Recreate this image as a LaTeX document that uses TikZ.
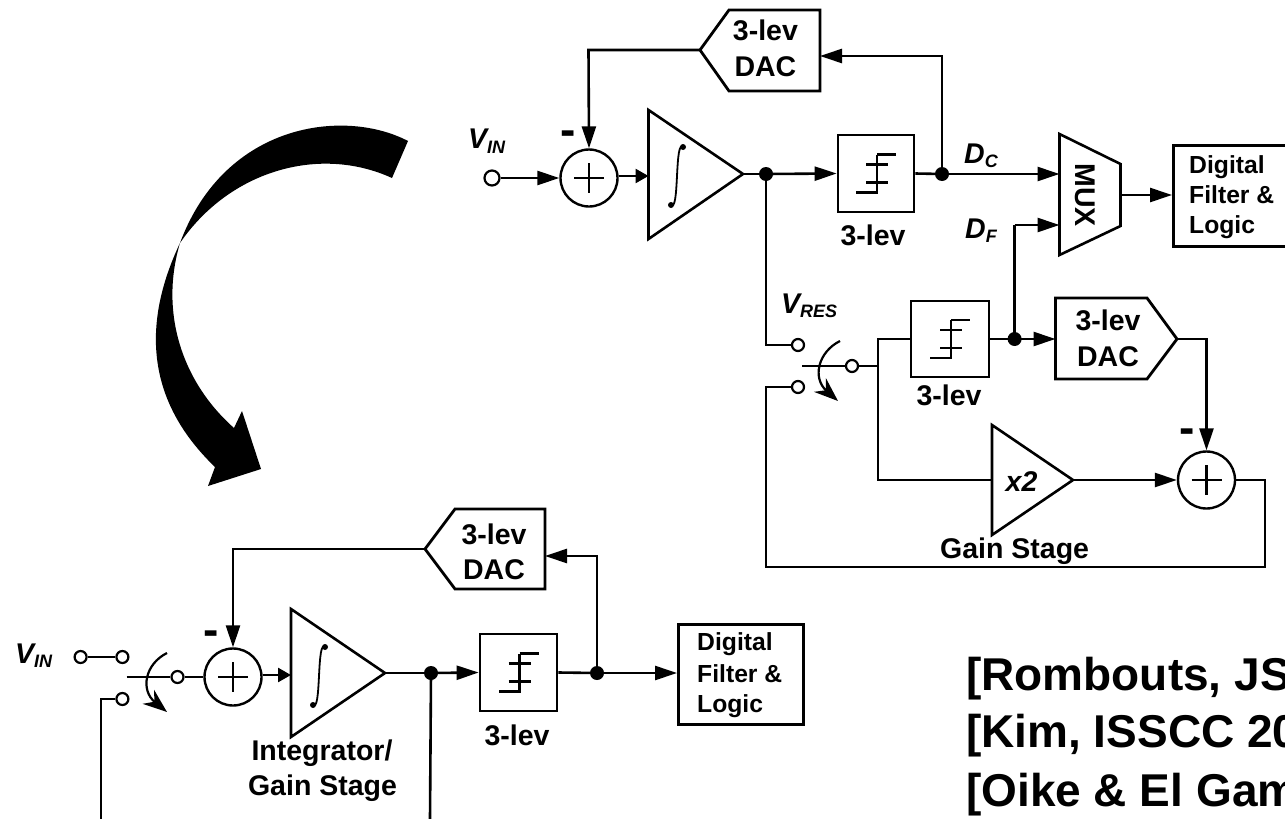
\documentclass[tikz,border=0pt]{standalone}
\usepackage{fontspec}
\setmainfont{Liberation Sans}
\usetikzlibrary{arrows.meta,calc}
\tikzset{
  wire/.style={line width=2.6pt,line join=miter},
  arr/.style={wire,-{Triangle[length=22pt,width=14pt]}},
  sarr/.style={wire,-{Triangle[length=13pt,width=14pt]}},
  block/.style={draw,line width=2.8pt},
  sumnode/.style={circle,draw,line width=2.4pt,minimum size=57pt,inner sep=0pt},
  opencirc/.style={circle,draw,line width=2.2pt,fill=white,minimum size=12pt,inner sep=0pt},
  bigopen/.style={opencirc,minimum size=15pt},
  junction/.style={circle,fill=black,minimum size=14pt,inner sep=0pt},
  lab/.style={font=\fontsize{28.5}{31}\selectfont\bfseries,inner sep=0pt,anchor=base},
  small/.style={font=\fontsize{24.7}{31}\selectfont\bfseries,inner sep=0pt,anchor=base west},
  ital/.style={font=\fontsize{28.5}{31}\selectfont\bfseries\itshape,inner sep=0pt,anchor=base west},
  cite/.style={font=\fontsize{46}{50}\selectfont\bfseries,inner sep=0pt,anchor=base west},
  minusmark/.style={font=\fontsize{46}{50}\selectfont\bfseries,inner sep=0pt},
  swarr/.style={line width=2.2pt,-{Stealth[length=24pt,width=18pt]}},
  sym/.style={line width=2.2pt}
}
\newcommand{\Plus}[1]{\draw[sym] (#1.center) ++(-15,0) -- ++(30,0) (#1.center) ++(0,-15) -- ++(0,30);}
\newcommand{\Quant}[1]{\draw[sym] (#1.center) ++(1,-19) -- ++(0,38) -- ++(-21,0)
  (#1.center) ++(1,-19) -- ++(19,0)
  (#1.center) ++(-10,-9) -- ++(22,0) (#1.center) ++(-10,9) -- ++(22,0);}
\newcommand{\Integ}[1]{\begin{scope}[shift={(#1)}]
  \draw[line width=1.8pt] (6,-29) .. controls (2,-32) and (1,-20) .. (0,0)
    .. controls (-1,20) and (-2,32) .. (-6,29);
  \fill (6,-29) circle (3pt) (-6,29) circle (3pt);
  \end{scope}}
\newcommand{\Sub}[1]{{\fontsize{18}{18}\selectfont\raisebox{-4.5pt}{#1}}}
\begin{document}
\begin{tikzpicture}[x=1pt,y=-1pt]
\useasboundingbox (0,0) rectangle (1285,819);
\clip (0,0) rectangle (1285,819);

% big curved arrow
\fill (408,141) .. controls (345,108) and (225,122) .. (180,243)
  .. controls (146,315) and (140,395) .. (215,467)
  -- (208,486) -- (261,469) -- (242,411) -- (234,428)
  .. controls (180,380) and (160,310) .. (180,243)
  .. controls (230,170) and (320,145) .. (392,178) -- cycle;

% ---------- upper diagram ----------
\node[bigopen] (vin) at (492,178) {};
\node[sumnode] (s1) at (589,178) {};
\Plus{s1}
\coordinate (intL) at (648.5,176);
\coordinate (intO) at (743,174);
\draw[wire] (648.5,110) -- (intO) -- (648.5,239) -- cycle;
\Integ{677,176}
\node[block,minimum width=76pt,minimum height=77pt,inner sep=0pt] (q1) at (876,173.5) {};
\Quant{q1}
\node[junction] (j1) at (766,174) {};
\node[junction] (j2) at (942,174) {};
\coordinate (dac1tip) at (700,50);
\coordinate (dac1in) at (820,56);
\draw[block] (dac1tip) -- (729,10) -- (820,10) -- (820,91) -- (729,91) -- cycle;
\coordinate (c1) at (588.5,50);
\coordinate (c2) at (942,56);
\coordinate (muxa) at (1059.5,174);
\coordinate (muxb) at (1059.5,225);
\coordinate (muxo) at (1120.5,195);
\draw[wire] (1059.5,134) -- (1120.5,164) -- (1120.5,226) -- (1059.5,255) -- cycle;
\node[block,minimum width=140pt,minimum height=101pt,inner sep=0pt,anchor=north west] (df1) at (1172,144) {};

\draw[arr] (vin.east) -- (s1.west);
\draw[sarr] (s1.east |- intL) -- (intL);
\draw[wire] (intO) -- (j1.center);
\draw[arr] (j1.center) -- (q1.west);
\draw[wire] (q1.east) -- (j2.center);
\draw[arr] (j2.center) -- (muxa);
\draw[arr] (j2.center) -- (c2) -- (dac1in);
\draw[arr] (dac1tip) -- (c1) -- (s1.north);
\draw[arr] (muxo) -- (df1.west |- muxo);

% residue loop
\node[opencirc] (sw1) at (798,345) {};
\node[opencirc] (sw2) at (798,387) {};
\node[opencirc] (sw3) at (852,366) {};
\coordinate (pole) at (802,366);
\coordinate (n1) at (878,366);
\node[block,minimum width=78pt,minimum height=76pt,inner sep=0pt] (q2) at (950,339) {};
\Quant{q2}
\node[junction] (j3) at (1014.6,339) {};
\coordinate (dac2in) at (1055.5,339);
\coordinate (dac2o) at (1177,339);
\draw[block] (dac2in |- 0,298) -- (1147,298) -- (dac2o) -- (1147,379) -- (dac2in |- 0,379) -- cycle;
\coordinate (g1) at (992,480);
\coordinate (g2) at (1073,480);
\draw[wire] (992,425) -- (g2) -- (992,535) -- cycle;
\node[sumnode] (s2) at (1206.5,480) {};
\Plus{s2}
\draw[wire] (j1.center) -- (j1.center |- sw1) -- (sw1.west);
\draw[wire] (sw2.west) -- (766,387) -- (766,567) -- (1265,567) -- (1265,480) -- (s2.east);
\draw[wire] (pole) -- (sw3.west);
\draw[wire] (sw3.east) -- (n1);
\draw[wire] (n1) -- (878,339) -- (q2.west);
\draw[wire] (n1) -- (878,480) -- (g1);
\draw[wire] (q2.east) -- (j3.center);
\draw[arr] (j3.center) -- (dac2in);
\draw[wire] (j3.center) -- (j3.center |- muxb);
\draw[arr] (j3.center |- muxb) -- (muxb);
\draw[arr] (dac2o) -- (1206.5,339) -- (s2.north);
\draw[arr] (g2) -- (s2.west);
\draw[swarr] (840,341) .. controls (818,352) and (812,378) .. (838,401);

% labels, upper
\node[ital] (lvin) at (468,148.5) {V\Sub{IN}};
\node[ital] (ldc) at (964,163) {D\Sub{C}};
\node[ital] (ldf) at (965,238) {D\Sub{F}};
\node[ital] (lvres) at (781,313) {V\Sub{RES}};
\node[lab] (t1) at (765.4,40.7) {3-lev};
\node[lab] (t2) at (765.4,76.7) {DAC};
\node[lab] (t3) at (873,245.7) {3-lev};
\node[lab,rotate=-90,anchor=center] (tmux) at (1085,195) {MUX};
\node[small] (t4) at (1189,173) {Digital};
\node[small] (t5) at (1189,203) {Filter \&};
\node[small] (t6) at (1189,233) {Logic};
\node[lab] (t7) at (949,405) {3-lev};
\node[lab] (t8) at (1108,330) {3-lev};
\node[lab] (t9) at (1108,366) {DAC};
\node[lab,font=\fontsize{28.5}{31}\selectfont\bfseries\itshape] (t10) at (1021.5,491) {x2};
\node[lab] (t11) at (1014.6,558) {Gain Stage};
\node[minusmark] (m1) at (568,138) {-};
\node[minusmark] (m2) at (1187,436) {-};

% ---------- lower diagram ----------
\node[opencirc] (lv1) at (80.6,657) {};
\node[opencirc] (lv2) at (122.4,657) {};
\node[opencirc] (lv3) at (122.4,699) {};
\node[opencirc] (lv4) at (177.5,677) {};
\coordinate (lpole) at (126.5,677);
\coordinate (lb1) at (101,819);
\node[sumnode] (s3) at (233,677) {};
\Plus{s3}
\coordinate (lintL) at (291,675);
\coordinate (lintO) at (385,673);
\draw[wire] (291,609) -- (lintO) -- (291,737) -- cycle;
\Integ{319,676}
\node[junction] (j4) at (431,673) {};
\coordinate (lb2) at (430,819);
\node[block,minimum width=77pt,minimum height=77pt,inner sep=0pt] (q3) at (518.5,672.5) {};
\Quant{q3}
\node[junction] (j5) at (597,673) {};
\coordinate (ldtip) at (425,549);
\coordinate (ldin) at (545,556);
\draw[block] (ldtip) -- (455,509) -- (545,509) -- (545,589) -- (455,589) -- cycle;
\node[block,minimum width=125pt,minimum height=100pt,inner sep=0pt,anchor=north west] (df2) at (677,623) {};

\draw[wire] (lv1.east) -- (lv2.west);
\draw[wire] (lv3.west) -- (101,699) -- (lb1);
\draw[wire] (lpole) -- (lv4.west);
\draw[wire] (lv4.east) -- (s3.west);
\draw[sarr] (s3.east |- lintL) -- (lintL);
\draw[wire] (lintO) -- (j4.center);
\draw[wire] (j4.center) -- (lb2);
\draw[arr] (j4.center) -- (q3.west);
\draw[wire] (q3.east) -- (j5.center);
\draw[arr] (j5.center) -- (df2.west |- j5);
\draw[arr] (j5.center) -- (597,556) -- (ldin);
\draw[arr] (ldtip) -- (233,549) -- (s3.north);
\draw[swarr] (167,653) .. controls (145,664) and (140,690) .. (167,712);

\node[ital] (lvin2) at (15,663) {V\Sub{IN}};
\node[lab] (t12) at (494,544) {3-lev};
\node[lab] (t13) at (494,579) {DAC};
\node[lab] (t14) at (517,745) {3-lev};
\node[small] (t15) at (697,650) {Digital};
\node[small] (t16) at (697,682) {Filter \&};
\node[small] (t17) at (697,712) {Logic};
\node[lab] (t18) at (322,760) {Integrator/};
\node[lab] (t19) at (322.5,795) {Gain Stage};
\node[minusmark] (m3) at (211,638) {-};

% citations
\node[cite] (r1) at (966,690) {[Rombouts, JS};
\node[cite] (r2) at (966,747) {[Kim, ISSCC 20};
\node[cite] (r3) at (966,806) {[Oike \& El Gam};
\end{tikzpicture}
\end{document}
